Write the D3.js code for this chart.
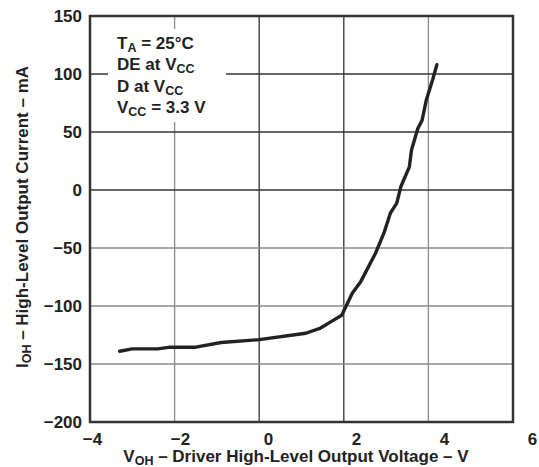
<!DOCTYPE html>
<html>
<head>
	<meta charset="utf-8">
	<title></title>
	<style type="text/css">
		body{
			margin: 0;
			background-color: white;
		}
		text{
			font-family: "Liberation Sans", Arial, sans-serif;
			font-weight: bold;
			fill: #222;
		}
	</style>
</head>
<body>
	<svg id="container" width="539" height="467"></svg>
</body>

<script src="https://cdn.jsdelivr.net/npm/d3@7"></script>
<script type="text/javascript">
	// curve
	let voltage = [-3.3, -3.0, -2.4, -2.1, -1.5, -0.9, 0.0, 1.1, 1.45, 1.7, 1.95, 2.05, 2.2, 2.4, 2.75, 2.95, 3.1, 3.25, 3.35, 3.55, 3.6, 3.75, 3.85, 3.95, 4.1, 4.2]
	let current = [-139, -137, -137, -135.5, -135.5, -131.5, -129, -123.5, -119, -113.5, -108, -100.5, -89, -79, -54.5, -37, -20, -11.5, 3, 20, 34.5, 53, 60, 77.5, 95, 108]

	let xTicks = [-4, -2, 0, 2, 4, 6]
	let yTicks = [150, 100, 50, 0, -50, -100, -150, -200]
	let notes = ["T|A| = 25°C", "DE at V|CC|", "D at V|CC|", "V|CC| = 3.3 V"]

	let svg = d3.select("#container")

	let x = d3.scaleLinear().domain([-4, 6]).range([90, 513])
	let xLabel = d3.scaleLinear().domain([-4, 6]).range([92, 532])
	let y = d3.scaleLinear().domain([-200, 150]).range([422, 16])

	let darkX = [0, 2]
	let darkY = [100, 50, 0]

	// grid
	svg.append("g").selectAll("line")
		.data(xTicks.slice(1, -1))
		.join("line")
		.attr("x1", d => x(d)).attr("x2", d => x(d))
		.attr("y1", y(150)).attr("y2", y(-200))
		.attr("stroke", d => darkX.includes(d) ? "#333" : "#8a8a8a")
		.attr("stroke-width", 1.3)

	svg.append("g").selectAll("line")
		.data(yTicks.slice(1, -1))
		.join("line")
		.attr("x1", x(-4)).attr("x2", x(6))
		.attr("y1", d => y(d)).attr("y2", d => y(d))
		.attr("stroke", d => darkY.includes(d) ? "#333" : "#8a8a8a")
		.attr("stroke-width", 1.3)

	// curve
	let line = d3.line().x((d, i) => x(voltage[i])).y(d => y(d))
	svg.append("path")
		.datum(current)
		.attr("d", line)
		.attr("fill", "none")
		.attr("stroke", "#222")
		.attr("stroke-width", 3.4)
		.attr("stroke-linejoin", "round")
		.attr("stroke-linecap", "round")

	// frame
	svg.append("rect")
		.attr("x", x(-4)).attr("y", y(150))
		.attr("width", x(6) - x(-4)).attr("height", y(-200) - y(150))
		.attr("fill", "none")
		.attr("stroke", "#333")
		.attr("stroke-width", 2.5)

	// condition box
	svg.append("rect")
		.attr("x", 108).attr("y", 29).attr("width", 118).attr("height", 93)
		.attr("fill", "white")

	function writeSub(sel, str, subSize) {
		str.split("|").forEach((part, i) => {
			if (part === "") return
			let t = sel.append("tspan").text(part)
			if (i % 2 == 1) t.attr("font-size", subSize).attr("dy", 3)
			else if (i > 0) t.attr("dy", -3)
		})
	}

	notes.forEach((n, i) => {
		let t = svg.append("text")
			.attr("x", 117).attr("y", 49 + i * 21.3)
			.attr("font-size", "17px")
		writeSub(t, n, "12.5px")
	})

	// axes
	let xAxis = d3.axisBottom(xLabel).tickValues(xTicks).tickSize(0).tickPadding(0)
		.tickFormat(d => d < 0 ? "\u2212" + Math.abs(d) : d)
	let gx = svg.append("g").attr("transform", "translate(0,432)").call(xAxis)
	gx.select(".domain").remove()
	gx.selectAll("text").attr("font-size", "17px").attr("font-family", null).attr("dy", "0.75em").attr("fill", "#222")

	let yAxis = d3.axisLeft(y).tickValues(yTicks).tickSize(0).tickPadding(0)
		.tickFormat(d => d < 0 ? "\u2212" + Math.abs(d) : d)
	let gy = svg.append("g").attr("transform", "translate(82,0)").call(yAxis)
	gy.select(".domain").remove()
	gy.selectAll("text").attr("font-size", "17px").attr("font-family", null).attr("fill", "#222")

	let xt = svg.append("text")
		.attr("x", 296).attr("y", 462)
		.attr("text-anchor", "middle")
		.attr("font-size", "17px")
	writeSub(xt, "V|OH| \u2013 Driver High-Level Output Voltage \u2013 V", "12.5px")

	let yt = svg.append("text")
		.attr("transform", "translate(28,217) rotate(-90)")
		.attr("text-anchor", "middle")
		.attr("font-size", "17px")
	writeSub(yt, "I|OH| \u2013 High-Level Output Current \u2013 mA", "12.5px")
</script>
</html>
